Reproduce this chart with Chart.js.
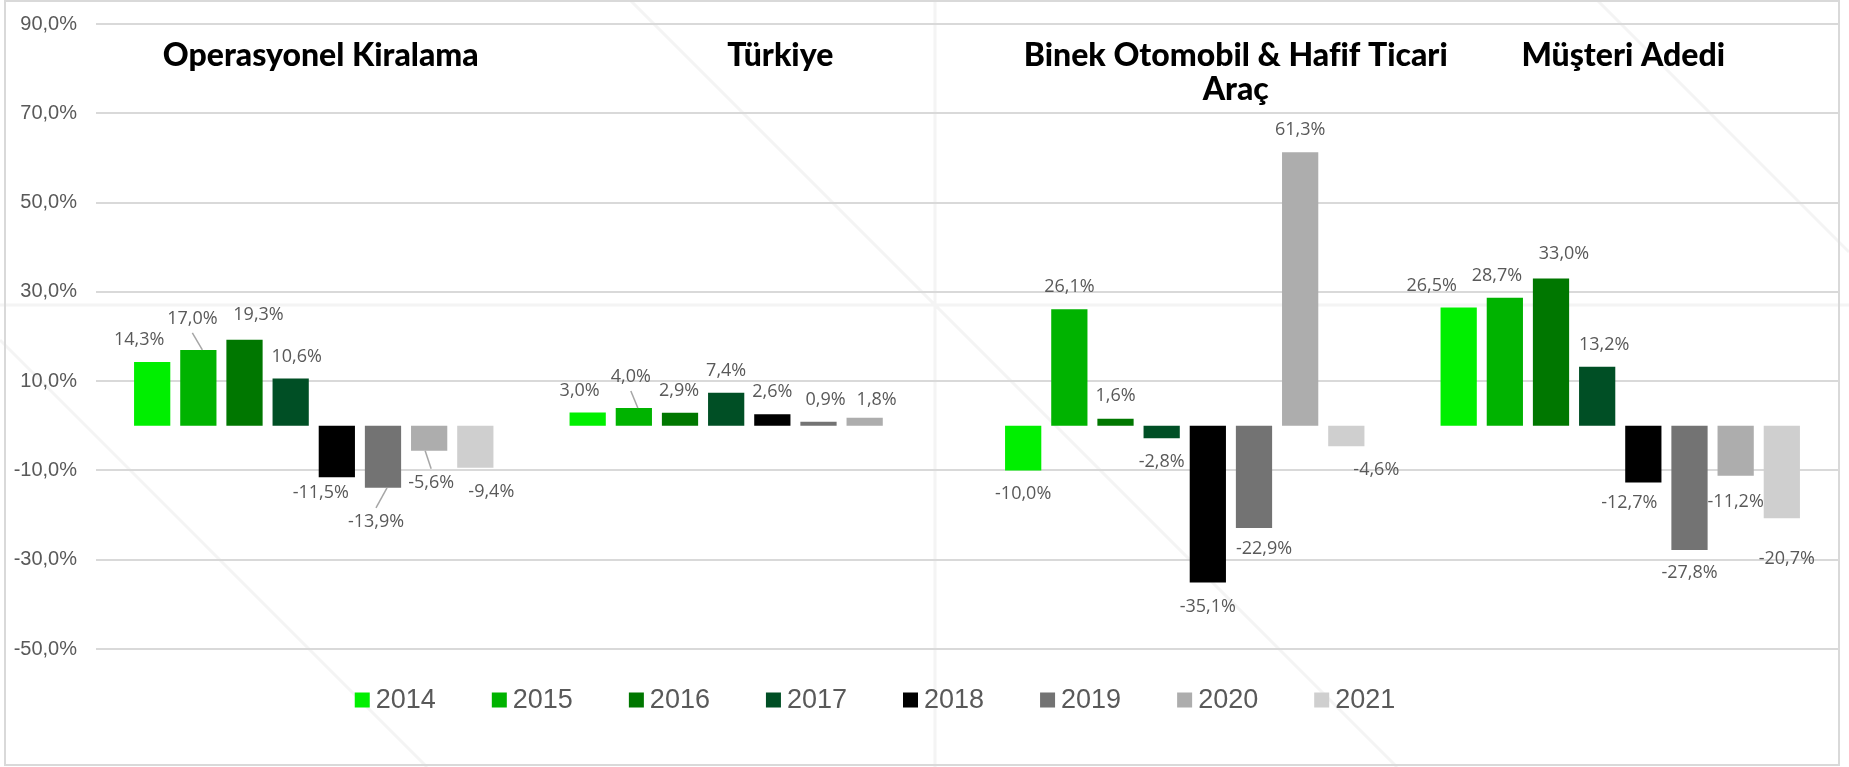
<!DOCTYPE html>
<html lang="tr">
<head>
<meta charset="UTF-8">
<title>Büyüme Oranları</title>
<script src="https://cdn.jsdelivr.net/npm/chart.js@4.4.1/dist/chart.umd.min.js"></script>
<style>
    html, body { margin: 0; padding: 0; background: #ffffff; }
    canvas { display: block; }
</style>
</head>
<body>
<canvas id="growth-chart" width="1849" height="767"></canvas>
<script>
// Chart data
const categories = ['Operasyonel Kiralama', 'Türkiye', ['Binek Otomobil & Hafif Ticari', 'Araç'], 'Müşteri Adedi'];
const years = ['2014', '2015', '2016', '2017', '2018', '2019', '2020', '2021'];

const values2014 = [14.3, 3.0, -10.0, 26.5];
const values2015 = [17.0, 4.0, 26.1, 28.7];
const values2016 = [19.3, 2.9, 1.6, 33.0];
const values2017 = [10.6, 7.4, -2.8, 13.2];
const values2018 = [-11.5, 2.6, -35.1, -12.7];
const values2019 = [-13.9, 0.9, -22.9, -27.8];
const values2020 = [-5.6, 1.8, 61.3, -11.2];
const values2021 = [-9.4, null, -4.6, -20.7];

const yTicks = [-50, -30, -10, 10, 30, 50, 70, 90];

const seriesValues = [values2014, values2015, values2016, values2017, values2018, values2019, values2020, values2021];
const yearColors = ['#00ef00', '#00b300', '#007700', '#004f25', '#000000', '#737373', '#adadad', '#cfcfcf'];

// Manual label placement (Excel had some labels dragged around): 'category-year' -> [dx, dy, leader]
const labelNudge = {
    '0-0': [-13, 0], '0-1': [-6, 9, true], '0-2': [14, 3], '0-3': [6, 0],
    '0-4': [-16, -6], '0-5': [-7, 12, true], '0-6': [2, 10, true], '0-7': [16, 2],
    '1-0': [-8, 0], '1-1': [-3, 9, true], '1-2': [-1, 0], '1-5': [7, 0], '1-6': [12, -4],
    '2-0': [0, 1], '2-2': [0, 1], '2-3': [0, 2], '2-4': [0, 2], '2-5': [10, -1], '2-7': [30, 2],
    '3-0': [-27, 0], '3-1': [-8, 0], '3-2': [13, 3], '3-3': [7, 0],
    '3-4': [-14, -2], '3-5': [0, 1], '3-6': [0, 4], '3-7': [5, 19]
};
// Title text boxes are not exactly centered on their groups
const titleShift = [7, 31, 51, 3];

function formatPercent(v) {
    return v.toFixed(1).replace('.', ',') + '%';
}

// White background, faint slide pattern and thin frame round the whole chart
const framePlugin = {
    id: 'frame',
    beforeDraw(chart) {
        const ctx = chart.ctx;
        ctx.save();
        ctx.fillStyle = '#ffffff';
        ctx.fillRect(0, 0, chart.width, chart.height);

        ctx.strokeStyle = '#f4f4f4';
        ctx.lineWidth = 3;
        ctx.beginPath();
        ctx.moveTo(935, 0); ctx.lineTo(935, 767);
        ctx.moveTo(0, 305); ctx.lineTo(1849, 305);
        ctx.moveTo(0, 340); ctx.lineTo(427, 767);
        ctx.moveTo(630, 0); ctx.lineTo(1397, 767);
        ctx.moveTo(1597, 0); ctx.lineTo(1849, 252);
        ctx.stroke();

        ctx.strokeStyle = '#d9d9d9';
        ctx.lineWidth = 2;
        ctx.strokeRect(5, 1, 1834, 764);
        ctx.restore();
    }
};

// Group titles drawn inside the plot area
const titlePlugin = {
    id: 'groupTitles',
    afterDraw(chart) {
        const ctx = chart.ctx;
        const xScale = chart.scales.x;
        const top = chart.chartArea.top;
        ctx.save();
        ctx.font = '900 32px Lato';
        ctx.fillStyle = '#000000';
        ctx.textAlign = 'center';
        ctx.textBaseline = 'alphabetic';
        categories.forEach((cat, i) => {
            const lines = Array.isArray(cat) ? cat : [cat];
            const x = xScale.getPixelForValue(i) + titleShift[i];
            lines.forEach((line, k) => {
                ctx.fillText(line, x, top + 42 + k * 34);
            });
        });
        ctx.restore();
    }
};

// Value labels at the outer end of every bar
const barLabelPlugin = {
    id: 'barLabels',
    afterDatasetsDraw(chart) {
        const ctx = chart.ctx;
        ctx.save();
        ctx.font = '18px "Open Sans"';
        ctx.fillStyle = '#595959';
        ctx.textAlign = 'center';
        ctx.textBaseline = 'middle';
        chart.data.datasets.forEach((ds, di) => {
            const meta = chart.getDatasetMeta(di);
            meta.data.forEach((bar, ci) => {
                const v = ds.data[ci];
                if (v === null || v === undefined) return;
                const nudge = labelNudge[ci + '-' + di] || [0, 0];
                const dir = v >= 0 ? -1 : 1;
                const lx = bar.x + nudge[0];
                const ly = bar.y + dir * (22 + nudge[1]);
                if (nudge[2]) {
                    ctx.strokeStyle = '#a6a6a6';
                    ctx.lineWidth = 1.5;
                    ctx.beginPath();
                    ctx.moveTo(lx, ly - dir * 14);
                    ctx.lineTo(bar.x + 4 * Math.sign(bar.x - lx || 1), bar.y);
                    ctx.stroke();
                }
                ctx.fillText(formatPercent(v), lx, ly);
            });
        });
        ctx.restore();
    }
};

// Legend row under the plot
const legendPlugin = {
    id: 'yearLegend',
    afterDraw(chart) {
        const ctx = chart.ctx;
        const box = 15, gap = 6, itemGap = 56;
        const cy = 700;
        ctx.save();
        ctx.font = '27px "Liberation Sans"';
        ctx.textBaseline = 'middle';
        const widths = chart.data.datasets.map(ds => box + gap + ctx.measureText(ds.label).width);
        const total = widths.reduce((a, b) => a + b, 0) + itemGap * (widths.length - 1);
        let x = 875 - total / 2;
        chart.data.datasets.forEach((ds, i) => {
            ctx.fillStyle = ds.backgroundColor;
            ctx.fillRect(x, cy - box / 2, box, box);
            ctx.fillStyle = '#595959';
            ctx.fillText(ds.label, x + box + gap, cy + 1);
            x += widths[i] + itemGap;
        });
        ctx.restore();
    }
};

document.addEventListener('DOMContentLoaded', function() {
    const ctx = document.getElementById('growth-chart').getContext('2d');

    const datasets = years.map((year, i) => ({
        label: year,
        data: seriesValues[i],
        backgroundColor: yearColors[i],
        borderWidth: 0,
        categoryPercentage: 0.848,
        barPercentage: 0.785
    }));

    new Chart(ctx, {
        type: 'bar',
        data: {
            labels: categories,
            datasets: datasets
        },
        options: {
            responsive: false,
            animation: false,
            layout: {
                padding: { left: 0, right: 11, top: 24, bottom: 118 }
            },
            plugins: {
                legend: { display: false },
                tooltip: { enabled: false }
            },
            scales: {
                x: {
                    display: false
                },
                y: {
                    min: yTicks[0],
                    max: yTicks[yTicks.length - 1],
                    afterFit: function(scale) { scale.width = 96; },
                    afterBuildTicks: function(scale) {
                        scale.ticks = yTicks.map(v => ({ value: v }));
                    },
                    border: { display: false },
                    grid: {
                        color: '#d9d9d9',
                        lineWidth: 2,
                        drawTicks: true,
                        tickLength: 19,
                        tickColor: 'rgba(0,0,0,0)'
                    },
                    ticks: {
                        padding: 0,
                        color: '#595959',
                        font: { family: '"Liberation Sans", Arial', size: 20 },
                        callback: function(value) { return formatPercent(value); }
                    }
                }
            }
        },
        plugins: [framePlugin, titlePlugin, barLabelPlugin, legendPlugin]
    });
});
</script>
</body>
</html>
